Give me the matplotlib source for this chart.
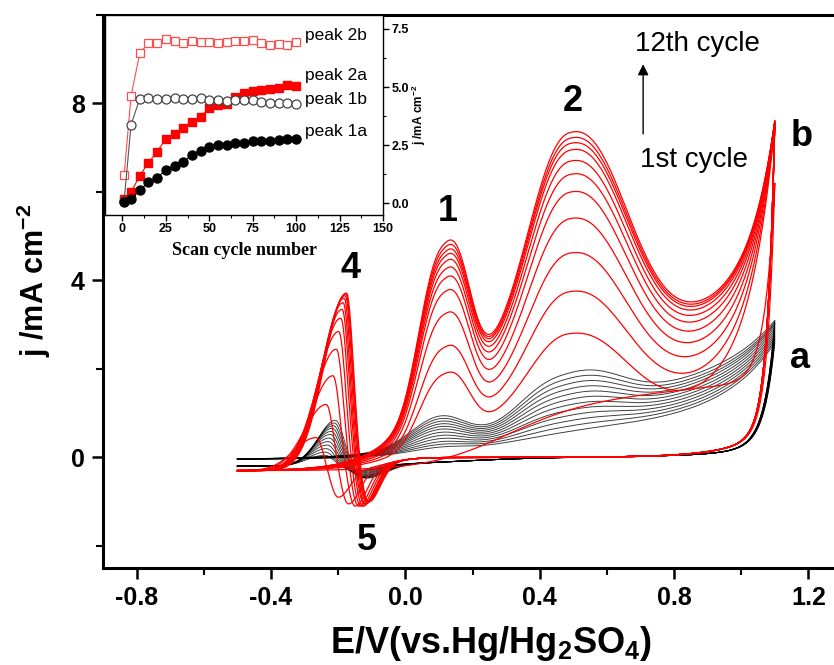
import numpy as np
import matplotlib.pyplot as plt
from matplotlib.ticker import MultipleLocator

plt.rcParams['font.family'] = ['Liberation Sans', 'DejaVu Sans']
plt.rcParams['mathtext.fontset'] = 'custom'
plt.rcParams['mathtext.rm'] = 'Liberation Sans'
plt.rcParams['mathtext.bf'] = 'Liberation Sans:bold'
plt.rcParams['axes.unicode_minus'] = False

# curve b (red), cycles 1..12
red_p1 = [0.0, 1.9, 2.5, 3.25, 3.75, 4.05, 4.25, 4.42, 4.55, 4.65, 4.75, 4.85]   # peak 1 (0.12 V)
red_p2 = [0.0, 2.8, 3.75, 4.62, 5.4, 6.0, 6.4, 6.7, 6.95, 7.1, 7.22, 7.35]      # peak 2 (0.5 V)
red_level = [1.5, 1.2, 1.55, 1.9, 2.2, 2.45, 2.65, 2.8, 2.92, 3.0, 3.05, 3.1]  # current at 0.8 V
red_onset = [0.28, 0.03, 0.03, 0.03, 0.03, 0.03, 0.03, 0.03, 0.03, 0.03, 0.03, 0.03]
red_end = [6.2, 7.5, 7.55, 7.6, 7.6, 7.6, 7.6, 7.6, 7.6, 7.6, 7.6, 7.6]        # at 1.1 V
red_h4 = [0.45, 1.2, 1.85, 2.45, 2.85, 3.15, 3.35, 3.5, 3.6, 3.66, 3.7, 3.72]  # peak 4
red_e4 = [-0.265, -0.235, -0.215, -0.205, -0.198, -0.192, -0.188, -0.185, -0.182, -0.179, -0.177, -0.175]
red_d5 = [-0.9, -1.05, -1.1, -1.1, -1.1, -1.1, -1.05, -1.05, -1.0, -1.0, -1.0, -1.0]  # peak 5

# curve a (black), cycles 1..12
black_p1 = [0.23, 0.29, 0.35, 0.42, 0.49, 0.56, 0.63, 0.69, 0.75, 0.81, 0.87, 0.93]
black_p2 = [0.55, 0.67, 0.79, 0.91, 1.03, 1.15, 1.27, 1.39, 1.51, 1.63, 1.75, 1.87]
black_level = [0.77, 0.84, 0.91, 0.98, 1.05, 1.12, 1.19, 1.26, 1.33, 1.4, 1.47, 1.55]
black_end = [2.6, 2.65, 2.7, 2.75, 2.8, 2.85, 2.9, 2.95, 3.0, 3.03, 3.06, 3.1]
black_h4 = [0.05, 0.12, 0.2, 0.28, 0.36, 0.44, 0.52, 0.59, 0.66, 0.72, 0.78, 0.84]
black_e4 = [-0.24, -0.238, -0.235, -0.232, -0.229, -0.226, -0.223, -0.22, -0.217, -0.214, -0.211, -0.208]
black_d5 = [-0.3, -0.32, -0.34, -0.36, -0.38, -0.4, -0.42, -0.43, -0.44, -0.45, -0.46, -0.47]

# inset: peak currents vs scan cycle
cycle_no = [1, 5, 10, 15, 20, 25, 30, 35, 40, 45, 50, 55, 60, 65, 70, 75, 80, 85, 90, 95, 100]
peak_2b = [1.2, 4.62, 6.45, 6.9, 6.88, 7.07, 6.97, 6.88, 6.97, 6.93, 6.93, 6.88, 6.93, 6.97, 6.97,
           7.02, 6.88, 6.79, 6.84, 6.79, 6.95]
peak_2a = [0.2, 0.48, 1.19, 1.75, 2.22, 2.78, 2.98, 3.26, 3.49, 3.73, 4.11, 4.25, 4.29, 4.58, 4.76,
           4.82, 4.86, 4.9, 4.96, 5.1, 5.04]
peak_1b = [0.12, 3.38, 4.5, 4.54, 4.5, 4.5, 4.53, 4.5, 4.5, 4.54, 4.46, 4.43, 4.42, 4.43, 4.46,
           4.43, 4.37, 4.32, 4.32, 4.32, 4.29]
peak_1a = [0.06, 0.17, 0.58, 0.9, 1.11, 1.43, 1.61, 1.79, 2.08, 2.25, 2.43, 2.5, 2.53, 2.6, 2.6,
           2.67, 2.7, 2.7, 2.74, 2.77, 2.77]

E_up = np.linspace(-0.5, 1.1, 600)
E_dn = E_up[::-1]


def sig(x):
    return 1.0 / (1.0 + np.exp(-x))


def bump(E, c, hl, hr, p=2.0):
    d = E - c
    h = np.where(d < 0, hl, hr)
    return np.exp(-np.log(2) * np.abs(d / h) ** p)


def forward(E, j0, level, onset, width, p1, p2, jend, tau, e1, e2, w1, w2):
    shape = lambda x: sig((x - onset) / width) * (1 + 0.5 * (x - 0.1))
    bg = lambda x: j0 + (level - j0) * shape(x) / shape(0.8)
    a1 = max(p1 - bg(e1), 0) if p1 else 0
    a2 = max(p2 - bg(e2), 0) if p2 else 0
    j = bg(E) + a1 * bump(E, e1, *w1) + a2 * bump(E, e2, *w2)
    return j + (jend - bg(1.1)) * np.exp((E - 1.1) / tau)


def reverse(E, jl, jr, cb, wb, pre, jend, tau, h4, e4, d5, e5, w4, w5):
    base = lambda x: jl + (jr - jl) * sig((x - cb) / wb) + pre * np.exp((x - 1.0) / 0.12)
    a4 = h4 - base(e4)
    g4 = lambda x: a4 * bump(x, e4, *w4)
    a5 = d5 - base(e5) - g4(e5)
    j = base(E) + g4(E) + a5 * bump(E, e5, *w5)
    return j + (jend - base(1.1)) * np.exp((E - 1.1) / tau)


fig = plt.figure(figsize=(8.34, 6.65), dpi=100)
ax = fig.add_axes([103 / 834, 97 / 665, 739 / 834, 553 / 665])

for i in range(len(black_p1)):
    up = forward(E_up, -0.05, black_level[i], 0.3, 0.2, black_p1[i], black_p2[i], black_end[i], 0.15,
                 0.1, 0.48, (0.1, 0.09, 2), (0.15, 0.17, 2.5))
    dn = reverse(E_dn, -0.2, 0.02, 0.15, 0.15, 0.15, black_end[i], 0.03,
                 black_h4[i], black_e4[i], black_d5[i], black_e4[i] + 0.09,
                 (0.06, 0.03, 2), (0.035, 0.07, 2))
    ax.plot(np.concatenate([E_up, E_dn]), np.concatenate([up, dn]), color='black', lw=0.7, alpha=0.75)

for i in range(len(red_p1)):
    width = 0.12 if red_p2[i] == 0 else 0.09
    tau = 0.03 if red_p2[i] == 0 else 0.08
    up = forward(E_up, -0.3, red_level[i], red_onset[i], width, red_p1[i], red_p2[i], red_end[i], tau,
                 0.12, 0.495, (0.085, 0.075, 2.5), (0.14, 0.18, 2.3))
    dn = reverse(E_dn, -0.3, 0.0, -0.06, 0.04, 0.3, red_end[i], 0.022,
                 red_h4[i], red_e4[i], red_d5[i], red_e4[i] + 0.065,
                 (0.077, 0.024, 2), (0.024, 0.041, 2))
    ax.plot(np.concatenate([E_up, E_dn]), np.concatenate([up, dn]), color='#ff0000', lw=0.9)

ax.set_xlim(-0.9, 1.3)
ax.set_ylim(-2.5, 10)
ax.set_xticks([-0.8, -0.4, 0.0, 0.4, 0.8, 1.2])
ax.set_yticks([0, 4, 8])
ax.xaxis.set_minor_locator(MultipleLocator(0.2))
ax.yaxis.set_minor_locator(MultipleLocator(2))
ax.tick_params(which='major', direction='out', length=8, width=1.8, pad=5)
ax.tick_params(which='minor', direction='out', length=5, width=1.5)
for s in ax.spines.values():
    s.set_linewidth(2.2)
for lab in ax.get_xticklabels() + ax.get_yticklabels():
    lab.set_fontweight('bold')
    lab.set_fontsize(18)

fig.text(0.04, 0.578, r'j /mA cm$^{\mathbf{-2}}$', rotation=90, ha='center', va='center',
         fontsize=22, fontweight='bold')
fig.text(0.589, 0.003, r'E/V(vs.Hg/Hg$_\mathbf{2}$SO$_\mathbf{4}$)', ha='center', va='bottom',
         fontsize=26, fontweight='bold')

lab_kw = dict(fontsize=26, fontweight='bold', ha='center', va='center')
ax.text(0.125, 5.56, '1', **lab_kw)
ax.text(0.5, 8.04, '2', **lab_kw)
ax.text(-0.164, 4.26, '4', **lab_kw)
ax.text(-0.113, -1.87, '5', **lab_kw)
ax.text(1.176, 2.23, 'a', **lab_kw)
ax.text(1.18, 7.25, 'b', **lab_kw)
ax.text(0.685, 9.35, '12th cycle', fontsize=20, ha='left', va='center')
ax.text(0.70, 6.73, '1st cycle', fontsize=20, ha='left', va='center')
ax.annotate('', xy=(0.708, 8.95), xytext=(0.708, 7.25),
            arrowprops=dict(arrowstyle='-|>', color='black', lw=1.0, mutation_scale=16))

# inset
ins = fig.add_axes([105 / 834, 450 / 665, 278 / 834, 200 / 665])
ins.plot(cycle_no, peak_2b, color='#ff4d4d', lw=0.8, marker='s', ms=6, mfc='white', mec='#ff4d4d', mew=0.9)
ins.plot(cycle_no, peak_2a, color='#ff0000', lw=0.8, marker='s', ms=6, mfc='#ff0000', mec='#ff0000')
ins.plot(cycle_no, peak_1b, color='#555555', lw=0.8, marker='o', ms=6.5, mfc='white', mec='#444444', mew=0.9)
ins.plot(cycle_no, peak_1a, color='black', lw=0.8, marker='o', ms=6.5, mfc='black', mec='black')
ins.set_xlim(-10, 150)
ins.set_ylim(-0.5, 8.1)
ins.set_xticks([0, 25, 50, 75, 100, 125, 150])
ins.set_yticks([0.0, 2.5, 5.0, 7.5])
ins.set_yticklabels(['0.0', '2.5', '5.0', '7.5'])
ins.xaxis.set_minor_locator(MultipleLocator(12.5))
ins.yaxis.set_minor_locator(MultipleLocator(1.25))
ins.yaxis.tick_right()
ins.yaxis.set_label_position('right')
ins.tick_params(which='major', direction='out', length=4, width=1, labelsize=9, pad=2)
ins.tick_params(which='minor', direction='out', length=2.5, width=0.8)
for lab in ins.get_xticklabels() + ins.get_yticklabels():
    lab.set_fontweight('bold')
for s in ins.spines.values():
    s.set_linewidth(1.0)
ins.set_xlabel('Scan cycle number', fontfamily=['Liberation Serif', 'DejaVu Serif'], fontweight='bold',
               fontsize=13, labelpad=5)
ins.set_ylabel(r'j /mA cm$^{\mathbf{-2}}$', fontsize=8.5, fontweight='bold', labelpad=1)
pk_kw = dict(fontsize=12.5, ha='left', va='center')
ins.text(105, 7.2, 'peak 2b', **pk_kw)
ins.text(105, 5.5, 'peak 2a', **pk_kw)
ins.text(105, 4.45, 'peak 1b', **pk_kw)
ins.text(105, 3.1, 'peak 1a', **pk_kw)

fig.savefig('out.png', dpi=100)
